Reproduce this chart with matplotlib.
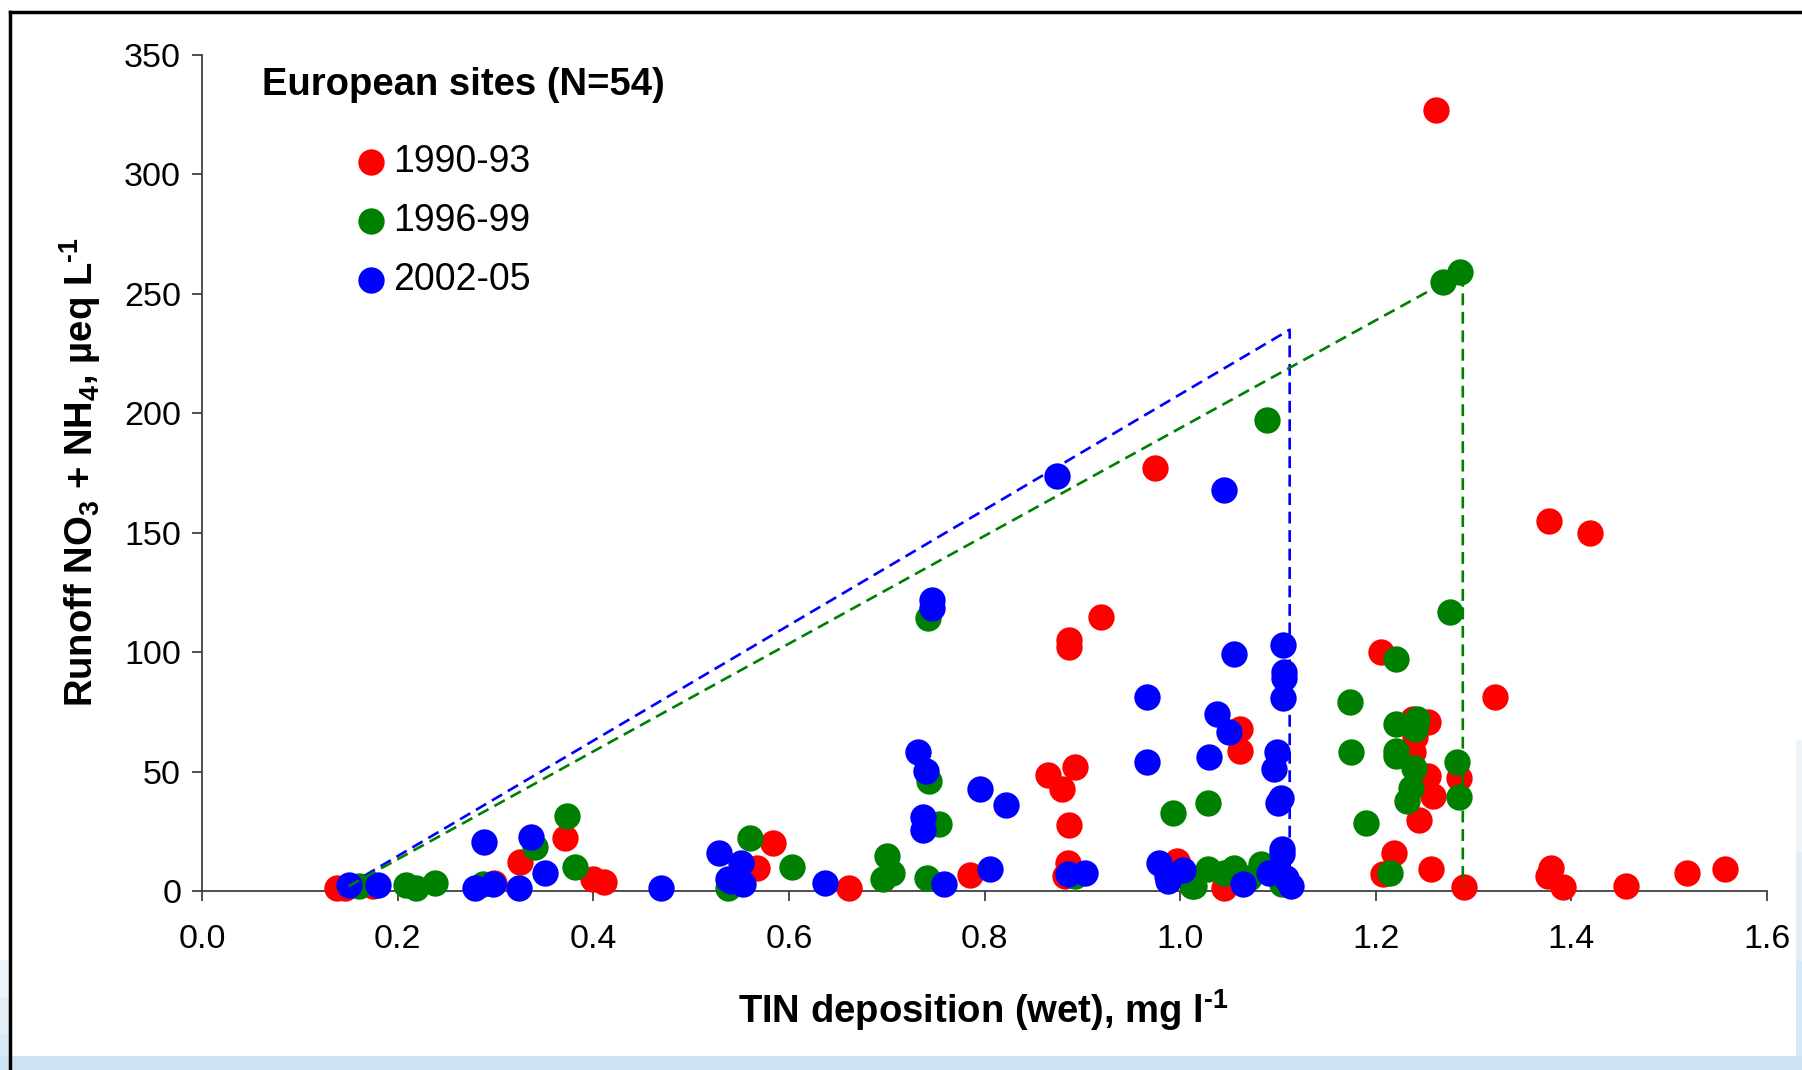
import matplotlib
matplotlib.use("Agg")
import matplotlib.pyplot as plt
from matplotlib.lines import Line2D
from matplotlib.patches import Rectangle

plt.rcParams["font.family"] = ["Liberation Sans", "DejaVu Sans"]
plt.rcParams["mathtext.fontset"] = "custom"
plt.rcParams["mathtext.rm"] = "Liberation Sans:bold"
plt.rcParams["mathtext.bf"] = "Liberation Sans:bold"

# ===== DATA =====
red_x = [0.138, 0.146, 0.175, 0.299, 0.325, 0.371, 0.400, 0.411, 0.567, 0.584,
         0.661, 0.785, 0.865, 0.893, 0.879, 0.886, 0.885, 0.882, 0.886, 0.886,
         0.919, 0.974, 0.997, 1.045, 1.061, 1.061, 1.205, 1.238, 1.253, 1.240,
         1.238, 1.253, 1.259, 1.244, 1.285, 1.219, 1.207, 1.256, 1.290, 1.322,
         1.379, 1.376, 1.391, 1.456, 1.518, 1.557, 1.262, 1.377, 1.419]
red_y = [1.1, 1.4, 2.0, 3.2, 12.0, 22.3, 4.9, 3.9, 9.8, 20.0,
         1.4, 6.7, 48.6, 52.1, 42.6, 27.5, 11.9, 6.3, 105.0, 102.0,
         114.9, 176.9, 12.5, 1.4, 68.0, 58.7, 100.0, 72.0, 70.8, 64.3,
         58.0, 48.2, 39.8, 29.8, 47.1, 15.8, 7.3, 9.1, 1.8, 81.3,
         9.8, 6.3, 1.8, 2.1, 7.4, 9.1, 327.0, 155.0, 150.0]

green_x = [0.160, 0.209, 0.219, 0.238, 0.287, 0.340, 0.373, 0.381, 0.538, 0.560,
           0.603, 0.700, 0.705, 0.696, 0.741, 0.743, 0.753, 0.742, 0.893, 0.993,
           1.012, 1.029, 1.029, 1.055, 1.083, 1.045, 1.014, 1.104, 1.070, 1.089,
           1.221, 1.174, 1.175, 1.221, 1.242, 1.240, 1.221, 1.221, 1.239, 1.236,
           1.232, 1.190, 1.283, 1.285, 1.215, 1.276, 1.286, 1.269, 1.095]
green_y = [2.0, 2.5, 1.1, 3.2, 2.8, 18.6, 31.6, 10.2, 1.4, 22.0,
           10.2, 14.7, 7.7, 4.9, 5.6, 46.0, 28.2, 114.4, 6.3, 32.8,
           2.0, 37.0, 9.1, 9.8, 11.2, 7.7, 2.1, 2.8, 5.6, 197.0,
           97.1, 79.0, 58.3, 69.9, 72.0, 67.8, 58.7, 56.6, 51.7, 43.3,
           37.7, 28.6, 54.1, 39.4, 7.7, 117.0, 259.0, 255.0, 8.0]

blue_x = [0.150, 0.180, 0.279, 0.297, 0.288, 0.324, 0.336, 0.351, 0.469, 0.529,
          0.541, 0.551, 0.538, 0.553, 0.637, 0.759, 0.806, 0.732, 0.740, 0.737,
          0.737, 0.795, 0.822, 0.885, 0.903, 0.746, 0.746, 0.874, 1.045, 0.966,
          0.966, 0.978, 0.988, 1.003, 0.987, 1.055, 1.105, 1.106, 1.106, 1.105,
          1.038, 1.050, 1.030, 1.099, 1.096, 1.103, 1.100, 1.104, 1.104, 1.064,
          1.091, 1.108, 1.113]
blue_y = [2.5, 2.5, 1.1, 2.8, 20.5, 1.4, 22.8, 7.7, 1.4, 15.8,
          4.2, 11.9, 4.9, 2.8, 3.5, 3.1, 9.1, 58.0, 50.3, 31.0,
          25.4, 42.6, 36.2, 7.0, 7.4, 122.0, 118.6, 173.9, 168.0, 81.3,
          53.8, 11.6, 4.2, 8.7, 6.3, 99.2, 103.0, 91.5, 89.0, 80.6,
          74.0, 66.4, 56.3, 58.0, 51.0, 39.1, 36.7, 17.5, 15.4, 2.8,
          7.7, 5.6, 2.1]

# envelope lines (dashed)
blue_env_x = [0.150, 1.112, 1.112]
blue_env_y = [2.5, 235.0, 2.0]
green_env_x = [0.150, 1.289, 1.289]
green_env_y = [2.0, 259.0, 2.0]

labels = ["1990-93", "1996-99", "2002-05"]
colors = ["#ff0000", "#008000", "#0000ff"]

# ===== FIGURE =====
W, H = 1802, 1070
fig = plt.figure(figsize=(W / 100, H / 100), dpi=100)
fig.patch.set_facecolor("white")

# slide background: light blue band at the bottom, fading up the side edges
bg = "#cfe3f3"
fig.patches.append(Rectangle((0, 0), 1, 14 / H, transform=fig.transFigure,
                             facecolor=bg, edgecolor="none", zorder=-5))
for frac, a in [(1.0, 0.35), (0.66, 0.35), (0.33, 0.5)]:
    fig.patches.append(Rectangle((0, 0), 10 / W, frac * 110 / H, transform=fig.transFigure,
                                 facecolor=bg, alpha=a, edgecolor="none", zorder=-5))
    fig.patches.append(Rectangle((1 - 6 / W, 0), 6 / W, frac * 330 / H,
                                 transform=fig.transFigure, facecolor=bg, alpha=a,
                                 edgecolor="none", zorder=-5))
fig.lines.append(Line2D([10 / W, 10 / W], [0, 1 - 12 / H], transform=fig.transFigure,
                        color="black", lw=2.5, zorder=-4))
fig.lines.append(Line2D([10 / W, 1], [1 - 12 / H, 1 - 12 / H], transform=fig.transFigure,
                        color="black", lw=2.5, zorder=-4))

ax = fig.add_axes([202 / W, 1 - 891 / H, (1767 - 202) / W, (891 - 55) / H])
ax.set_facecolor("none")

ms = 360
ax.scatter(red_x, red_y, s=ms, color=colors[0], label=labels[0], zorder=3,
           linewidths=0, clip_on=False)
ax.scatter(green_x, green_y, s=ms, color=colors[1], label=labels[1], zorder=4,
           linewidths=0, clip_on=False)
ax.scatter(blue_x, blue_y, s=ms, color=colors[2], label=labels[2], zorder=5,
           linewidths=0, clip_on=False)

dash = (0, (4.5, 2.5))
ax.plot(blue_env_x, blue_env_y, color=colors[2], lw=1.9, ls=dash, zorder=6)
ax.plot(green_env_x, green_env_y, color=colors[1], lw=1.9, ls=dash, zorder=6)

ax.set_xlim(0, 1.6)
ax.set_ylim(0, 350)
ax.set_xticks([0.0, 0.2, 0.4, 0.6, 0.8, 1.0, 1.2, 1.4, 1.6])
ax.set_xticklabels([f"{v:.1f}" for v in ax.get_xticks()])
ax.set_yticks(range(0, 351, 50))
for s in ["top", "right"]:
    ax.spines[s].set_visible(False)
for s in ["left", "bottom"]:
    ax.spines[s].set_color("#404040")
    ax.spines[s].set_linewidth(1.3)
ax.tick_params(axis="both", direction="out", length=7, width=1.3, color="#404040",
               labelsize=24.5)
ax.tick_params(axis="x", pad=17)
ax.tick_params(axis="y", pad=8)

leg = ax.legend(loc="upper left", bbox_to_anchor=(352 / W, 1 - 144 / H),
                bbox_transform=fig.transFigure, frameon=False, fontsize=27,
                handlelength=1.0, handletextpad=0.1, labelspacing=0.61,
                borderpad=0, borderaxespad=0, markerscale=1.0)

fig.text(262 / W, 1 - 85 / H, "European sites (N=54)", fontsize=27.5,
         fontweight="bold", va="center", ha="left")
fig.text(983 / W, 1 - 1023 / H, r"TIN deposition (wet), mg l$^{\text{-}1}$",
         fontsize=27.5, fontweight="bold", ha="center", va="baseline")
fig.text(80 / W, 1 - 472 / H,
         r"Runoff NO$_{3}$ + NH$_{4}$, µeq L$^{\text{-}1}$",
         fontsize=27.5, fontweight="bold", rotation=90, ha="center", va="center")

fig.savefig("out.png", dpi=100, facecolor=fig.get_facecolor())
